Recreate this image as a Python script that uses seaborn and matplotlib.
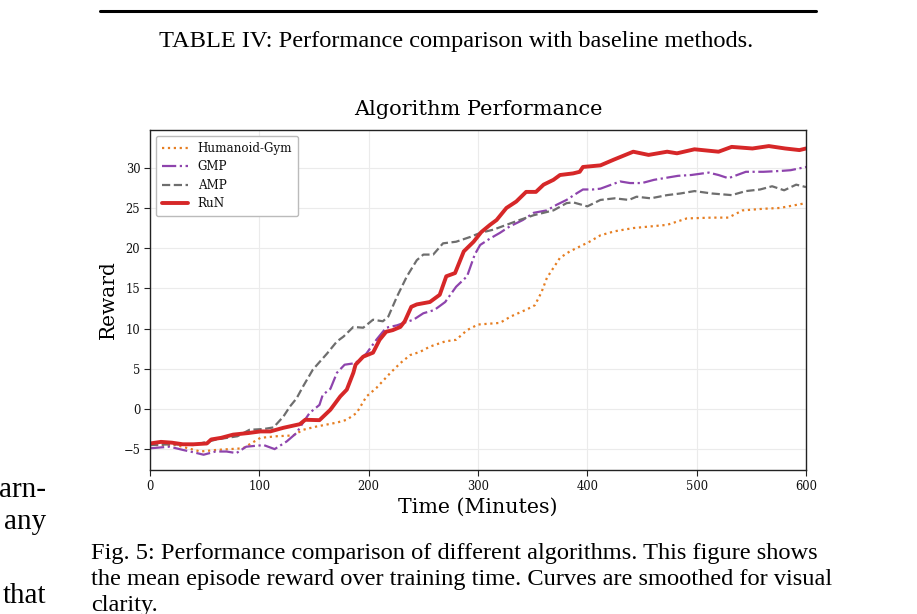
import matplotlib
matplotlib.use("Agg")
import matplotlib.pyplot as plt
from matplotlib.lines import Line2D
import seaborn as sns
import pandas as pd

sns.set_theme(style="whitegrid")

## DATA
series = ["Humanoid-Gym", "GMP", "AMP", "RuN"]

hg_x = [0, 24, 46, 61, 85, 101, 116, 131, 140, 152, 171, 180, 189, 198, 207, 220, 229, 238, 247, 256,
        270, 280, 290, 300, 320, 330, 345, 352, 358, 363, 375, 384, 393, 402, 412, 425, 442, 473, 491,
        514, 529, 542, 561, 576, 600]
hg_y = [-4.5, -4.5, -5.3, -5.1, -4.9, -3.6, -3.4, -3.3, -2.6, -2.2, -1.7, -1.35, -0.5, 1.55, 2.6, 4.5,
        5.7, 6.7, 7.1, 7.75, 8.4, 8.6, 9.8, 10.5, 10.7, 11.5, 12.4, 12.9, 14.5, 16.3, 18.8, 19.6, 20.2,
        20.8, 21.6, 22.1, 22.5, 22.9, 23.7, 23.8, 23.8, 24.7, 24.9, 25.0, 25.6]

gmp_x = [0, 18, 30, 40, 49, 60, 70, 79, 88, 104, 114, 125, 134, 140, 146, 155, 158, 165, 171, 178,
         188, 198, 207, 216, 226, 232, 241, 250, 260, 270, 280, 290, 297, 302, 311, 320, 329, 341, 351,
         363, 372, 381, 390, 396, 405, 412, 430, 439, 450, 461, 483, 495, 511, 520, 529, 545, 561, 576,
         586, 600]
gmp_y = [-4.9, -4.7, -5.1, -5.4, -5.7, -5.3, -5.3, -5.5, -4.7, -4.5, -5.0, -4.05, -3.0, -1.7, -0.5,
         0.5, 1.75, 2.5, 4.5, 5.5, 5.7, 6.9, 8.6, 10.1, 10.4, 10.7, 11.1, 11.9, 12.3, 13.3, 15.2, 16.5,
         19.2, 20.4, 21.2, 21.9, 22.7, 23.5, 24.4, 24.7, 25.4, 26.0, 26.8, 27.3, 27.3, 27.4, 28.3, 28.1,
         28.1, 28.5, 29.0, 29.1, 29.4, 29.1, 28.7, 29.5, 29.5, 29.6, 29.7, 30.1]

amp_x = [0, 20, 40, 61, 80, 91, 104, 113, 122, 128, 134, 140, 149, 162, 171, 177, 186, 195, 204, 213,
         218, 226, 235, 244, 250, 259, 268, 280, 293, 302, 314, 326, 338, 351, 360, 369, 381, 387, 400,
         412, 425, 438, 445, 458, 473, 485, 498, 514, 532, 545, 558, 569, 580, 591, 600]
amp_y = [-4.5, -4.4, -4.5, -3.8, -3.4, -2.6, -2.5, -2.3, -0.95, 0.3, 1.3, 2.8, 4.9, 6.9, 8.4, 9.0,
         10.2, 10.1, 11.1, 10.9, 11.5, 14.0, 16.5, 18.5, 19.2, 19.2, 20.6, 20.8, 21.4, 21.9, 22.3, 22.9,
         23.5, 24.1, 24.4, 24.7, 25.6, 25.7, 25.2, 26.0, 26.2, 26.0, 26.4, 26.2, 26.6, 26.8, 27.1, 26.8,
         26.6, 27.1, 27.3, 27.7, 27.2, 27.9, 27.6]

run_x = [0, 10, 20, 30, 40, 52, 56, 65, 76, 90, 101, 110, 122, 137, 142, 155, 165, 174, 180, 186, 188,
         195, 204, 210, 216, 222, 229, 233, 239, 244, 256, 265, 271, 279, 287, 296, 303, 311, 317, 326,
         335, 344, 353, 360, 369, 375, 387, 393, 396, 412, 424, 442, 456, 473, 482, 498, 520, 532, 551,
         566, 581, 594, 600]
run_y = [-4.3, -4.1, -4.2, -4.4, -4.4, -4.3, -3.8, -3.6, -3.2, -3.0, -2.8, -2.8, -2.35, -1.9, -1.35,
         -1.4, -0.1, 1.55, 2.4, 4.5, 5.5, 6.5, 7.0, 8.6, 9.6, 9.8, 10.2, 10.9, 12.7, 13.0, 13.3, 14.2,
         16.5, 16.9, 19.6, 20.8, 22.0, 22.9, 23.5, 25.0, 25.8, 27.0, 27.0, 27.9, 28.5, 29.1, 29.3, 29.5,
         30.1, 30.3, 31.0, 32.0, 31.6, 32.0, 31.8, 32.3, 32.0, 32.6, 32.4, 32.7, 32.4, 32.2, 32.4]

data = {
    "Humanoid-Gym": (hg_x, hg_y),
    "GMP": (gmp_x, gmp_y),
    "AMP": (amp_x, amp_y),
    "RuN": (run_x, run_y),
}
styles = {
    "Humanoid-Gym": dict(color="#e67e22", linestyle=":", linewidth=1.6),
    "GMP": dict(color="#8e44ad", linestyle="-.", linewidth=1.6),
    "AMP": dict(color="#6e6e6e", linestyle="--", linewidth=1.6),
    "RuN": dict(color="#d62728", linestyle="-", linewidth=2.8),
}

## PLOT
W, H = 917, 614
fig = plt.figure(figsize=(W / 100, H / 100), dpi=100)
ax = fig.add_axes([150 / W, 1 - 470 / H, 656 / W, 340 / H])

for name in series:
    xs, ys = data[name]
    df = pd.DataFrame({"Time": xs, "Reward": ys})
    sns.lineplot(data=df, x="Time", y="Reward", ax=ax, label=name, **styles[name])

chart_font = "DejaVu Serif"
ax.set_xlim(0, 600)
ax.set_ylim(-7.6, 34.7)
ax.set_xticks([0, 100, 200, 300, 400, 500, 600])
ax.set_yticks([-5, 0, 5, 10, 15, 20, 25, 30])
ax.grid(True, color="#ebebeb", linewidth=0.8)
for s in ax.spines.values():
    s.set_color("#222222")
    s.set_linewidth(1.0)
ax.tick_params(axis="both", which="major", direction="out", length=4, width=0.8,
               color="#222222", labelcolor="#111111", labelsize=8.3, pad=3, left=True, bottom=True)
for lab in ax.get_xticklabels() + ax.get_yticklabels():
    lab.set_fontfamily(chart_font)

ax.set_title("Algorithm Performance", fontsize=15, family=chart_font, pad=11, color="black")
ax.set_xlabel("Time (Minutes)", fontsize=14.8, family=chart_font, labelpad=4, color="black")
ax.set_ylabel("Reward", fontsize=14.5, family=chart_font, labelpad=4, color="black")

leg = ax.legend(loc="upper left", prop={"family": chart_font, "size": 8.6}, frameon=True,
                fancybox=True, edgecolor="#bbbbbb", framealpha=1.0, handlelength=2.2,
                borderpad=0.5, labelspacing=0.45)
for t in leg.get_texts():
    t.set_color("#111111")

## PAGE TEXT AROUND THE FIGURE
page_font = ["Liberation Serif", "DejaVu Serif"]
fs_page = 17.6
fig.add_artist(Line2D([100 / W, 816 / W], [1 - 11 / H, 1 - 11 / H], color="black", linewidth=2.2))
fig.text(456 / W, 1 - 42 / H, "TABLE IV: Performance comparison with baseline methods.",
         ha="center", va="center", fontsize=fs_page, family=page_font, color="black")
for txt, yy in [("arn-", 490), ("any", 522), ("that", 596)]:
    fig.text(46 / W, 1 - yy / H, txt, ha="right", va="center", fontsize=21,
             family=page_font, color="black")
caption = [
    ("Fig. 5: Performance comparison of different algorithms. This figure shows", 554),
    ("the mean episode reward over training time. Curves are smoothed for visual", 580),
    ("clarity.", 605),
]
for txt, yy in caption:
    fig.text(91 / W, 1 - yy / H, txt, ha="left", va="center", fontsize=fs_page,
             family=page_font, color="black")

fig.savefig("out.png", dpi=100)
